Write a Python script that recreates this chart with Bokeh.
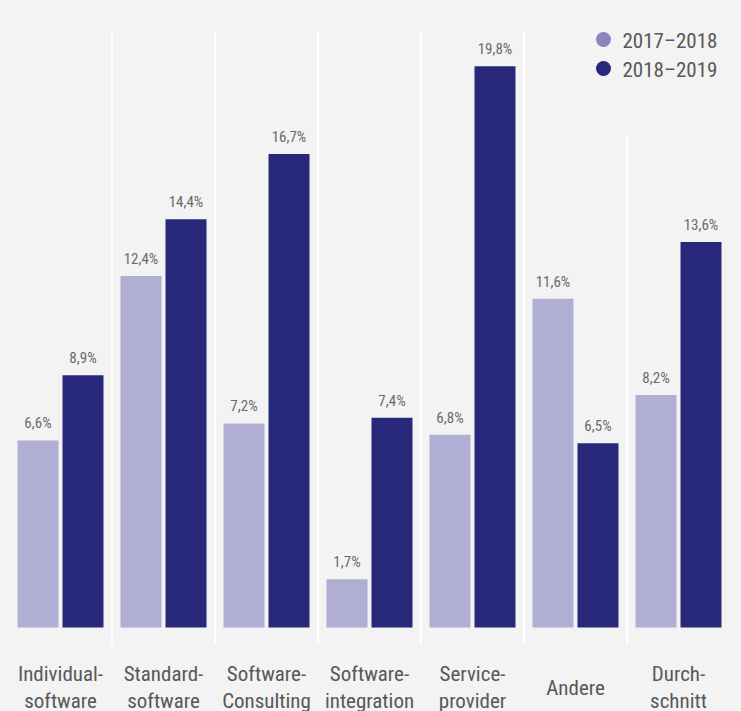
from bokeh.plotting import figure
from bokeh.models import ColumnDataSource, Range1d
from bokeh.core.properties import value
from bokeh.embed import file_html
from bokeh.resources import INLINE

# ---- data ----
categories = ["Individual-\nsoftware", "Standard-\nsoftware", "Software-\nConsulting",
              "Software-\nintegration", "Service-\nprovider", "Andere", "Durch-\nschnitt"]
series_names = ["2017\u20132018", "2018\u20132019"]
values_2017_2018 = [6.6, 12.4, 7.2, 1.7, 6.8, 11.6, 8.2]
values_2018_2019 = [8.9, 14.4, 16.7, 7.4, 19.8, 6.5, 13.6]

# ---- style ----
BG = "#f3f3f3"
LIGHT = "#b1aed4"
DARK = "#28287a"
LEG_LIGHT = "#8b84bd"
TXT = "#585858"
VTXT = "#6a6a6a"
FONT = "Roboto Condensed"

W, H = 741, 711
PX_PER_X = 103.0
PX_PER_Y = 28.35
BASE_PX = 627          # baseline distance from figure top
X0 = -60.0 / PX_PER_X

p = figure(width=W, height=H, output_backend="svg", toolbar_location=None,
           x_range=Range1d(X0, X0 + W / PX_PER_X),
           y_range=Range1d(-(H - BASE_PX) / PX_PER_Y, BASE_PX / PX_PER_Y),
           min_border=0)
p.axis.visible = False
p.grid.visible = False
p.outline_line_color = None
p.background_fill_color = BG
p.border_fill_color = BG

n = len(categories)
xs = list(range(n))
off = 22.5 / PX_PER_X
bw = 41.0 / PX_PER_X

def fmt(v):
    return f"{v:.1f}".replace(".", ",") + "%"

# separators
sep_x = [i + 0.5 for i in range(n - 1)]
sep_top = [21.0] * (n - 2) + [17.4]
sep_bot = [-16.0 / PX_PER_Y] * (n - 1)
p.segment(x0=sep_x, x1=sep_x, y0=sep_bot, y1=sep_top, line_color="white", line_width=2)

src = ColumnDataSource(dict(
    x1=[x - off for x in xs], x2=[x + off for x in xs],
    v1=values_2017_2018, v2=values_2018_2019,
    l1=[fmt(v) for v in values_2017_2018], l2=[fmt(v) for v in values_2018_2019],
))
p.vbar(x="x1", top="v1", bottom=0, width=bw, source=src, fill_color=LIGHT, line_color=None)
p.vbar(x="x2", top="v2", bottom=0, width=bw, source=src, fill_color=DARK, line_color=None)

for xcol, vcol, lcol in (("x1", "v1", "l1"), ("x2", "v2", "l2")):
    p.text(x=xcol, y=vcol, text=lcol, source=src, text_align="center",
           text_baseline="alphabetic", y_offset=-17, text_font=value(FONT),
           text_font_size="15px", text_color=VTXT)

# category labels
two = [c.split("\n") for c in categories]
l1x, l1t, l2x, l2t, sx, st = [], [], [], [], [], []
for i, parts in enumerate(two):
    if len(parts) == 2:
        l1x.append(i); l1t.append(parts[0]); l2x.append(i); l2t.append(parts[1])
    else:
        sx.append(i); st.append(parts[0])
common = dict(text_align="center", text_baseline="alphabetic", text_font=value(FONT),
              text_font_size="21px", text_color=TXT)
p.text(x=l1x, y=[0] * len(l1x), text=l1t, y_offset=46, **common)
p.text(x=l2x, y=[0] * len(l2x), text=l2t, y_offset=73, **common)
p.text(x=sx, y=[0] * len(sx), text=st, y_offset=60, **common)

# legend (manual)
def dx(px):
    return X0 + px / PX_PER_X

def dy(py):
    return (BASE_PX - py) / PX_PER_Y

p.scatter(x=[dx(603), dx(603)], y=[dy(39), dy(68)], size=15, marker="circle",
          fill_color=[LEG_LIGHT, DARK], line_color=None)
p.text(x=[dx(622), dx(622)], y=[dy(40), dy(69)], text=series_names,
       text_align="left", text_baseline="alphabetic", text_font=value(FONT),
       text_font_size="21px", text_color=TXT)

html = file_html(p, INLINE)
html = html.replace("</head>", "<style>html,body{background:#f3f3f3;}</style></head>", 1)
open("out.html", "w").write(html)
